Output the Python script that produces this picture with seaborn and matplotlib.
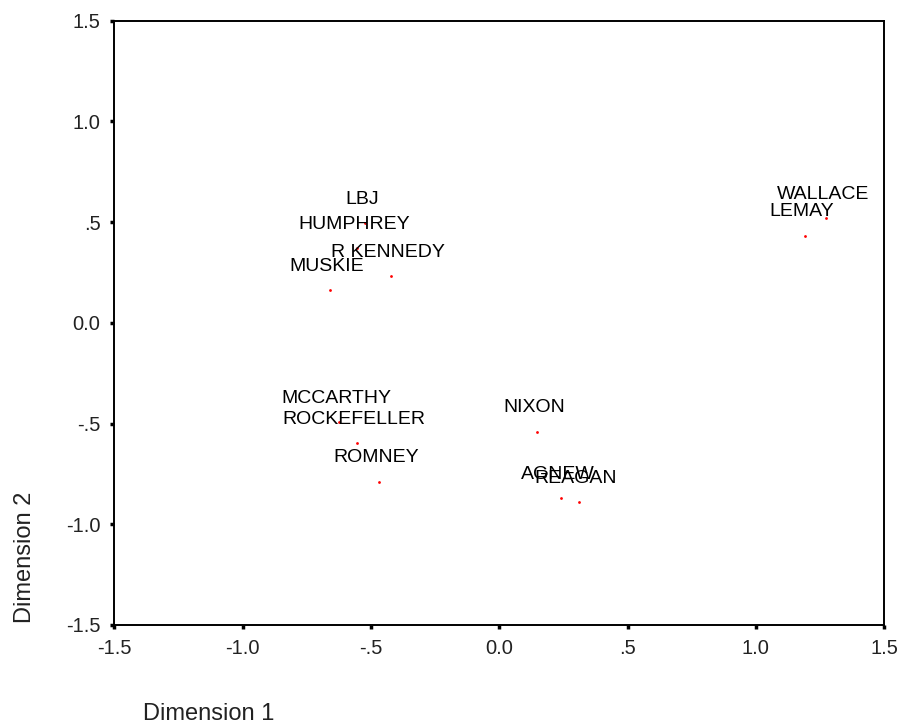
import numpy as np
import pandas as pd
import matplotlib
matplotlib.use("Agg")
import matplotlib.pyplot as plt
import seaborn as sns

# MDS solution, 1968 candidates
candidates = ["LBJ", "HUMPHREY", "R KENNEDY", "MUSKIE", "MCCARTHY", "ROCKEFELLER",
              "ROMNEY", "NIXON", "AGNEW", "REAGAN", "WALLACE", "LEMAY"]
dim1 = [-0.523, -0.556, -0.422, -0.660, -0.624, -0.556,
        -0.469, 0.146, 0.239, 0.309, 1.273, 1.190]
dim2 = [0.496, 0.372, 0.233, 0.163, -0.494, -0.598,
        -0.788, -0.540, -0.868, -0.889, 0.522, 0.433]

ticks = [-1.5, -1.0, -0.5, 0.0, 0.5, 1.0, 1.5]
tick_labels = ["-1.5", "-1.0", "-.5", "0.0", ".5", "1.0", "1.5"]

df = pd.DataFrame({"name": candidates, "dim1": dim1, "dim2": dim2})

sns.set_style("white")
plt.rcParams["font.family"] = ["Liberation Sans", "DejaVu Sans"]

fig = plt.figure(figsize=(8.97, 7.28), dpi=100)
ax = fig.add_axes([0.1274, 0.1415, 0.8584, 0.8301])

sns.scatterplot(data=df, x="dim1", y="dim2", ax=ax, color="red",
                s=4, linewidth=0, legend=False)

for _, row in df.iterrows():
    ax.annotate(row["name"], (row["dim1"], row["dim2"]),
                xytext=(-2, 17), textcoords="offset points",
                ha="center", va="center", fontsize=14, color="black")

ax.set_xlim(-1.5, 1.5)
ax.set_ylim(-1.5, 1.5)
ax.set_xticks(ticks)
ax.set_xticklabels(tick_labels)
ax.set_yticks(ticks)
ax.set_yticklabels(tick_labels)
ax.tick_params(axis="both", direction="out", length=3, width=2.5,
               color="black", labelsize=14.5, labelcolor="#222222", pad=7,
               bottom=True, left=True, top=False, right=False)
ax.set_xlabel("")
ax.set_ylabel("")
for sp in ax.spines.values():
    sp.set_visible(True)
    sp.set_color("black")
    sp.set_linewidth(1.4)

fig.text(143 / 897, 1 - 714 / 728, "Dimension 1", fontsize=17,
         ha="left", va="center", color="#222222")
fig.text(25 / 897, 1 - 623 / 728, "Dimension 2", fontsize=17,
         ha="center", va="bottom", rotation=90, color="#222222")

fig.savefig("out.png", dpi=100)
